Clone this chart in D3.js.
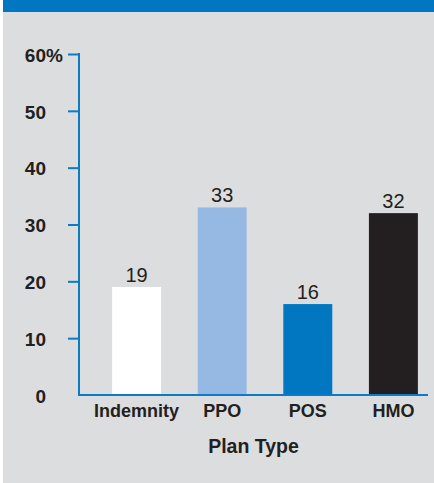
<!DOCTYPE html>
<html>
<head>
<meta charset="utf-8">
<script src="https://cdn.jsdelivr.net/npm/d3@7"></script>
<style>
  html, body { margin: 0; padding: 0; background: #ffffff; }
  svg { display: block; }
  text { font-family: "Liberation Sans", Arial, Helvetica, sans-serif; fill: #231f20; }
</style>
</head>
<body>
<script>
// Share of covered workers by plan type
const categories = ["Indemnity", "PPO", "POS", "HMO"];
const values = [19, 33, 16, 32];
const barColors = ["#ffffff", "#95b9e2", "#0077c0", "#231f20"];
const yTicks = [0, 10, 20, 30, 40, 50, 60];
const axisTitle = "Plan Type";

const W = 434, H = 483;
const axisBlue = "#0a7bc4";

const svg = d3.select("body").append("svg")
  .attr("width", W).attr("height", H);

// panel background and header band
svg.append("rect").attr("x", 3).attr("y", 0).attr("width", W - 3).attr("height", H)
  .attr("fill", "#dcdddf");
svg.append("rect").attr("x", 3).attr("y", 0).attr("width", W - 3).attr("height", 12)
  .attr("fill", "#0077c0");

const plotLeft = 79, plotRight = 428, plotTop = 54, plotBottom = 395;

const y = d3.scaleLinear().domain([0, 60]).range([plotBottom, plotTop]);
const x = d3.scaleBand().domain(categories).range([95, 435])
  .paddingInner(0.428).paddingOuter(0.2);

// bars
svg.append("g").selectAll("rect")
  .data(values)
  .join("rect")
  .attr("x", (d, i) => x(categories[i]))
  .attr("y", d => y(d))
  .attr("width", x.bandwidth())
  .attr("height", d => y(0) - y(d))
  .attr("fill", (d, i) => barColors[i]);

// value labels
svg.append("g").selectAll("text")
  .data(values)
  .join("text")
  .attr("x", (d, i) => x(categories[i]) + x.bandwidth() / 2)
  .attr("y", d => y(d) - 5)
  .attr("text-anchor", "middle")
  .style("font-size", "20px")
  .text(d => d);

// y axis
const yAxis = d3.axisLeft(y)
  .tickValues(yTicks)
  .tickSize(11)
  .tickPadding(22)
  .tickFormat(d => d);
const gy = svg.append("g")
  .attr("transform", `translate(${plotLeft},0)`)
  .call(yAxis);
gy.select(".domain").remove();
gy.selectAll(".tick line")
  .attr("stroke", axisBlue).attr("stroke-width", 2)
  .attr("display", d => d === 0 ? "none" : null);
gy.selectAll(".tick text")
  .style("font-size", "19px").style("font-weight", "bold")
  .attr("fill", "#231f20").attr("dy", "0.38em");
gy.selectAll(".tick").filter(d => d === 60)
  .append("text")
  .attr("x", -33).attr("dy", "0.38em")
  .attr("text-anchor", "start")
  .style("font-size", "19px").style("font-weight", "bold")
  .attr("fill", "#231f20")
  .text("%");
gy.append("line")
  .attr("x1", 0).attr("x2", 0)
  .attr("y1", plotTop - 1).attr("y2", plotBottom + 1)
  .attr("stroke", axisBlue).attr("stroke-width", 2);

// x axis
const gx = svg.append("g")
  .attr("transform", `translate(0,${plotBottom})`)
  .call(d3.axisBottom(x).tickSize(0).tickPadding(9));
gx.select(".domain").remove();
gx.append("line")
  .attr("x1", plotLeft - 1).attr("x2", plotRight)
  .attr("y1", 0).attr("y2", 0)
  .attr("stroke", axisBlue).attr("stroke-width", 2);
gx.selectAll(".tick text")
  .style("font-size", "18px").style("font-weight", "bold")
  .attr("fill", "#231f20");

// axis title
svg.append("text")
  .attr("x", (plotLeft + plotRight) / 2)
  .attr("y", 453)
  .attr("text-anchor", "middle")
  .style("font-size", "19.5px").style("font-weight", "bold")
  .text(axisTitle);
</script>
</body>
</html>
